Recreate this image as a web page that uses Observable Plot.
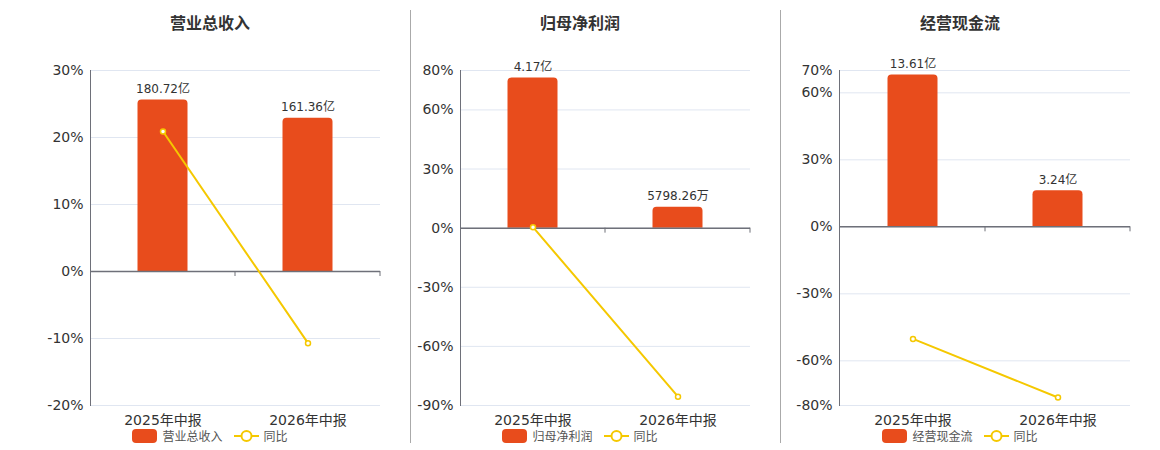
<!DOCTYPE html>
<html>
<head>
<meta charset="utf-8">
<script src="https://cdn.jsdelivr.net/npm/d3@7"></script>
<script src="https://cdn.jsdelivr.net/npm/@observablehq/plot@0.6"></script>
<style>
  body { margin: 0; background: #fff; width: 1160px; height: 450px; position: relative; overflow: hidden;
         font-family: "DejaVu Sans", "Noto Sans CJK SC", sans-serif; }
  .panel { position: absolute; top: 0; width: 370px; height: 450px; }
  .title { position: absolute; top: 10px; left: 0; width: 370px; text-align: center; font-size: 16px; font-weight: bold; color: #333;
           font-family: "Noto Sans CJK SC", sans-serif; }
  .chart { position: absolute; top: 50px; left: 0; }
  .legend { position: absolute; top: 428px; left: 0; width: 370px; display: flex; justify-content: center; align-items: center;
            font-size: 12px; color: #555; font-family: "Noto Sans CJK SC", sans-serif; line-height: 16px; }
  .legend svg { display: block; }
  .divider { position: absolute; top: 10px; width: 1px; height: 433px; background: #aaa; }
</style>
</head>
<body>
<script>
// ---- data ----
const periods = ["2025年中报", "2026年中报"];
const titles = ["营业总收入", "归母净利润", "经营现金流"];
const seriesNames = ["营业总收入", "归母净利润", "经营现金流"];
const yoyName = "同比";

const revenue = [180.72, 161.36];            // 亿
const revenueLabels = ["180.72亿", "161.36亿"];
const revenueYoY = [20.9, -10.7];            // %

const profit = [4.17, 0.579826];             // 亿
const profitLabels = ["4.17亿", "5798.26万"];
const profitYoY = [0.5, -85.5];

const cashflow = [13.61, 3.24];              // 亿
const cashflowLabels = ["13.61亿", "3.24亿"];
const cashflowYoY = [-50.2, -76.4];

const yTicks1 = [-20, -10, 0, 10, 20, 30];
const yTicks2 = [-90, -60, -30, 0, 30, 60, 80];
const yTicks3 = [-80, -60, -30, 0, 30, 60, 70];

// hidden secondary (amount) axis top, aligned with the percent axis top at zero
const barAxisMax = [211.8, 4.38, 14.01];

// ---- layout ----
const BAR = "#E84C1C", LINE = "#F5C800", AXIS = "#6E7079", GRID = "#E0E6F1";
const panelLefts = [25, 395, 775];
const marginsLeft = [65, 65, 64];

const panels = [
  {values: revenue, labels: revenueLabels, yoy: revenueYoY, ticks: yTicks1},
  {values: profit, labels: profitLabels, yoy: profitYoY, ticks: yTicks2},
  {values: cashflow, labels: cashflowLabels, yoy: cashflowYoY, ticks: yTicks3}
];

[410, 780].forEach(x => {
  const d = document.createElement("div");
  d.className = "divider";
  d.style.left = x + "px";
  document.body.appendChild(d);
});

panels.forEach((p, i) => {
  const yMin = d3.min(p.ticks), yMax = d3.max(p.ticks);
  const table = periods.map((period, j) => ({
    period, value: p.values[j], label: p.labels[j], yoy: p.yoy[j]
  }));
  const toAxis = d => d.value / barAxisMax[i] * yMax;

  const boundaryTicks = (index, scales, values, dimensions) => {
    const g = d3.create("svg:g");
    const bw = scales.x.bandwidth ? scales.x.bandwidth() : (dimensions.width - dimensions.marginLeft - dimensions.marginRight) / periods.length;
    const y0 = scales.y(0);
    periods.forEach(per => {
      const x = scales.x(per) + bw;
      g.append("line").attr("x1", x).attr("x2", x).attr("y1", y0).attr("y2", y0 + 5)
        .attr("stroke", AXIS).attr("stroke-width", 1);
    });
    return g.node();
  };

  const chart = Plot.plot({
    width: 370,
    height: 385,
    marginLeft: marginsLeft[i],
    marginRight: 15,
    marginTop: 20,
    marginBottom: 30,
    style: {fontFamily: '"DejaVu Sans", "Noto Sans CJK SC", sans-serif', fontSize: "14px", color: "#333", background: "transparent", overflow: "visible"},
    x: {domain: periods, padding: 0, label: null},
    y: {domain: [yMin, yMax], label: null},
    marks: [
      Plot.gridY(p.ticks, {stroke: GRID, strokeOpacity: 1, strokeWidth: 1}),
      Plot.axisY(p.ticks, {tickSize: 0, tickPadding: 7, tickFormat: d => d + "%", fontSize: 14, fill: "#333", label: null}),
      Plot.axisX({tickSize: 0, tickPadding: 10, fontSize: 14, fill: "#333", label: null}),
      Plot.frame({anchor: "left", stroke: AXIS, strokeWidth: 1}),
      Plot.barY(table, {x: "period", y: toAxis, fill: BAR, insetLeft: 47.5, insetRight: 47.5, ry1: 4}),
      Plot.text(table, {x: "period", y: toAxis, text: "label", dy: -11, fontSize: 12, fill: "#333"}),
      Plot.ruleY([0], {stroke: AXIS, strokeWidth: 1.5}),
      boundaryTicks,
      Plot.line(table, {x: "period", y: "yoy", stroke: LINE, strokeWidth: 2}),
      Plot.dot(table, {x: "period", y: "yoy", r: 2.5, fill: "white", stroke: LINE, strokeWidth: 1.5})
    ]
  });

  const panel = document.createElement("div");
  panel.className = "panel";
  panel.style.left = panelLefts[i] + "px";

  const title = document.createElement("div");
  title.className = "title";
  title.textContent = titles[i];
  panel.appendChild(title);

  const holder = document.createElement("div");
  holder.className = "chart";
  holder.appendChild(chart);
  panel.appendChild(holder);

  const legend = document.createElement("div");
  legend.className = "legend";
  legend.innerHTML =
    `<svg width="25" height="14"><rect x="0" y="0" width="25" height="14" rx="4" fill="${BAR}"/></svg>` +
    `<span style="margin-left:5px">${seriesNames[i]}</span>` +
    `<svg width="25" height="14" style="margin-left:11px"><line x1="0" x2="25" y1="7" y2="7" stroke="${LINE}" stroke-width="2"/><circle cx="12.5" cy="7" r="5" fill="white" stroke="${LINE}" stroke-width="2"/></svg>` +
    `<span style="margin-left:5px">${yoyName}</span>`;
  panel.appendChild(legend);

  document.body.appendChild(panel);
});
</script>
</body>
</html>
